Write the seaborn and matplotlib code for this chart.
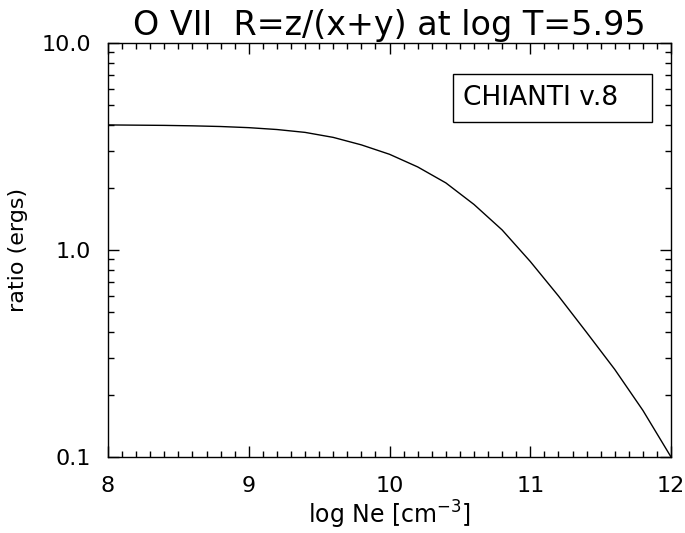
import numpy as np
import pandas as pd
import matplotlib
matplotlib.use("Agg")
import matplotlib.pyplot as plt
import seaborn as sns
from matplotlib.patches import Rectangle
from matplotlib.ticker import FixedLocator, LogLocator, MultipleLocator, NullFormatter

# values
log_ne = [8.0, 8.2, 8.4, 8.6, 8.8, 9.0, 9.2, 9.4, 9.6, 9.8,
          10.0, 10.2, 10.4, 10.6, 10.8, 11.0, 11.2, 11.4, 11.6, 11.8, 12.0]
ratio = [4.02, 4.01, 4.00, 3.98, 3.95, 3.90, 3.82, 3.70, 3.50, 3.22,
         2.90, 2.52, 2.11, 1.66, 1.25, 0.88, 0.60, 0.40, 0.265, 0.168, 0.10]
y_ticks = [0.1, 1.0, 10.0]
y_ticklabels = ["0.1", "1.0", "10.0"]
x_ticks = [8, 9, 10, 11, 12]

sns.set_style("ticks")
plt.rcParams['font.family'] = ['DejaVu Sans']
plt.rcParams['text.color'] = 'black'
plt.rcParams['axes.labelcolor'] = 'black'

df = pd.DataFrame({'logNe': log_ne, 'ratio': ratio})

fig = plt.figure(figsize=(6.85, 5.33), dpi=100)
ax = fig.add_axes([0.1577, 0.1426, 0.8219, 0.7767])
sns.lineplot(data=df, x='logNe', y='ratio', ax=ax, color='black', linewidth=1.0)

ax.set_yscale('log')
ax.set_xlim(8, 12)
ax.set_ylim(0.1, 10)
ax.xaxis.set_major_locator(FixedLocator(x_ticks))
ax.xaxis.set_minor_locator(MultipleLocator(0.1))
ax.yaxis.set_major_locator(FixedLocator(y_ticks))
ax.yaxis.set_minor_locator(LogLocator(base=10, subs=np.arange(2, 10)))
ax.yaxis.set_minor_formatter(NullFormatter())
ax.set_yticklabels(y_ticklabels)
ax.set_xticklabels([str(t) for t in x_ticks])

for s in ax.spines.values():
    s.set_linewidth(1.0)
    s.set_color('black')
ax.tick_params(which='both', direction='in', top=True, right=True,
               colors='black', labelcolor='black', width=1.0, labelsize=16)
ax.tick_params(which='major', length=8)
ax.tick_params(axis='x', which='major', pad=14)
ax.tick_params(axis='y', which='major', pad=12)
ax.tick_params(which='minor', length=4)

ax.set_xlabel('log Ne [cm$^{-3}$]', fontsize=17, labelpad=2)
ax.set_ylabel('ratio (ergs)', fontsize=16, labelpad=10)
ax.set_title('O VII  R=z/(x+y) at log T=5.95', fontsize=24, pad=6)

# label box, like the IDL legend
ax.add_patch(Rectangle((0.6128, 0.809), 0.3535, 0.116, transform=ax.transAxes,
                       facecolor='white', edgecolor='black', linewidth=1.0, zorder=3))
ax.text(0.630, 0.867, 'CHIANTI v.8', transform=ax.transAxes, fontsize=19,
        va='center', ha='left', zorder=4)

fig.savefig('out.png', dpi=100)
